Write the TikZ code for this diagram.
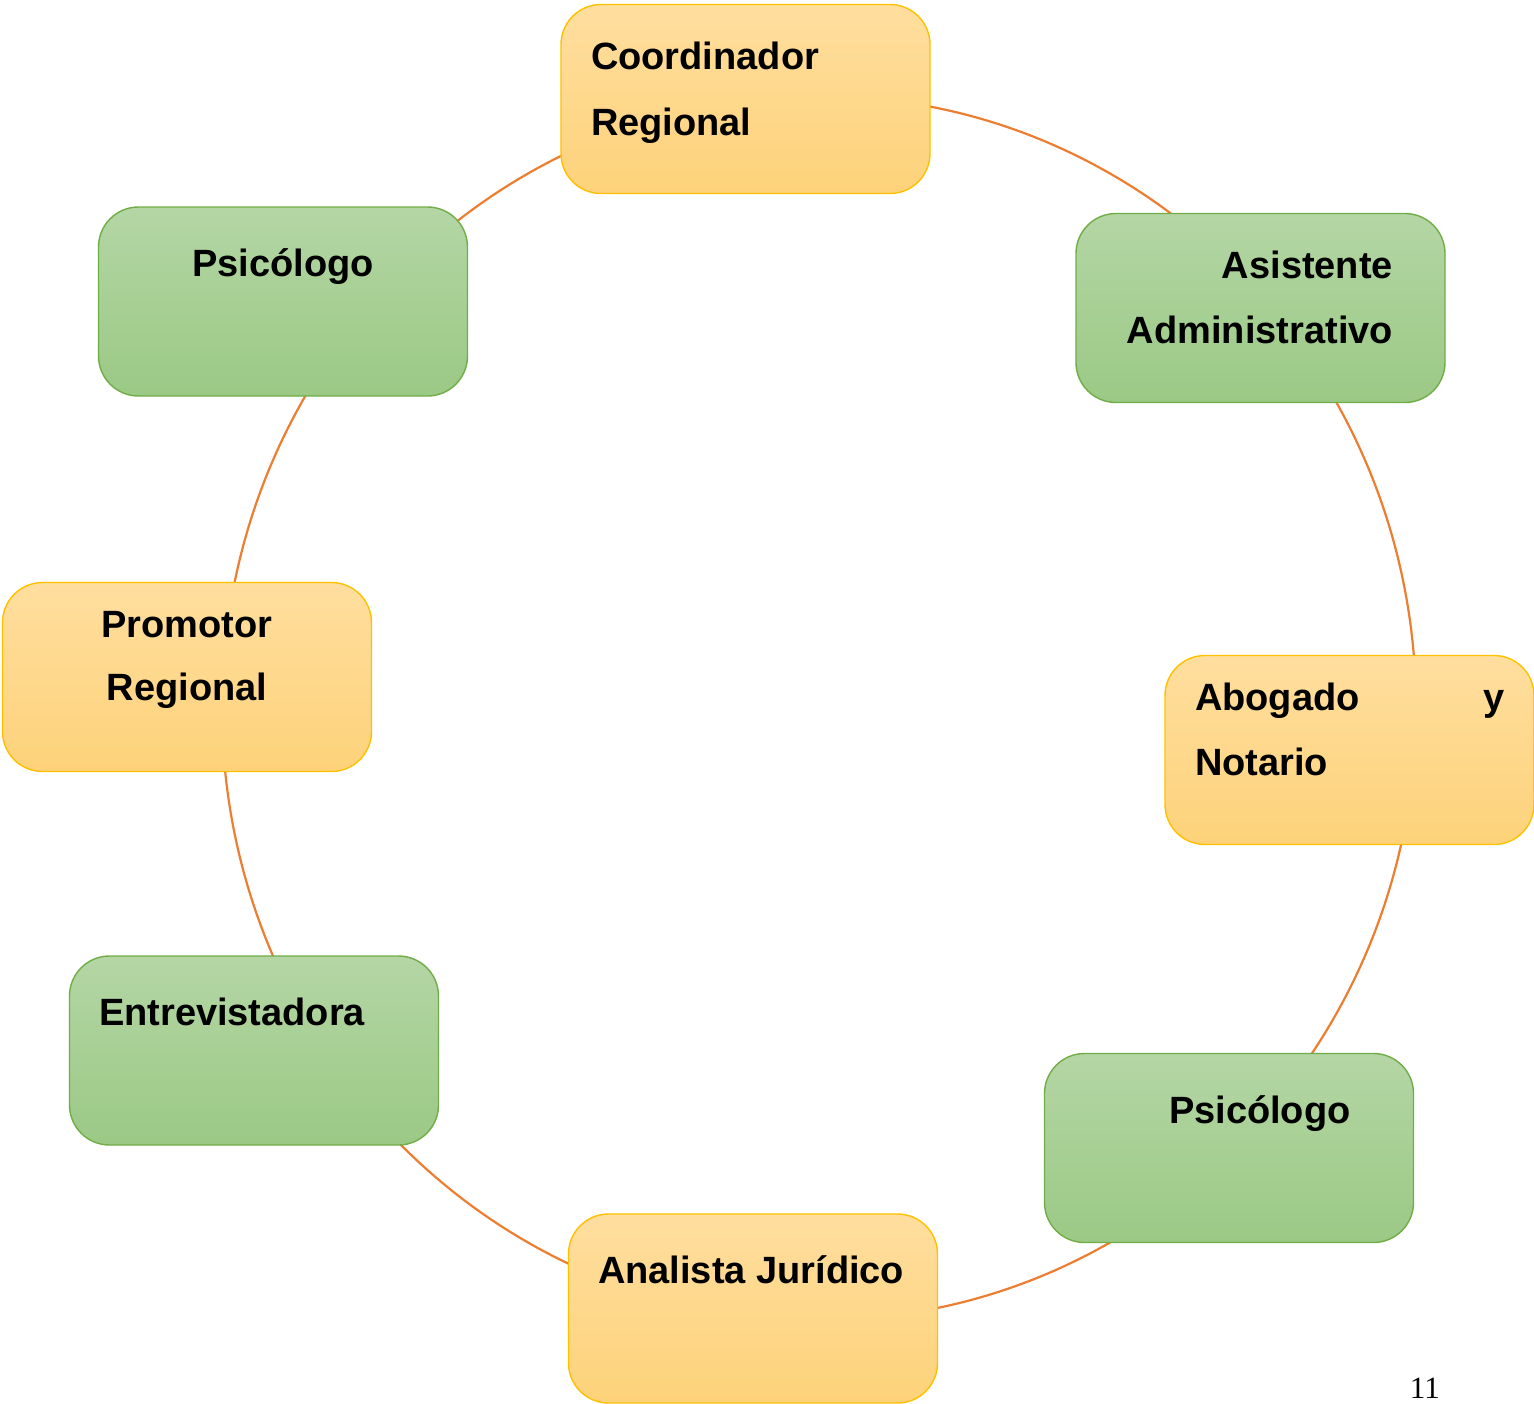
\documentclass[tikz,border=0pt]{standalone}
\usepackage{fontspec}
\setmainfont{Liberation Sans}
\newfontfamily\pagefont{Liberation Serif}
\definecolor{arcor}{HTML}{ED7D31}
\definecolor{ortop}{HTML}{FFDE9E}
\definecolor{orbot}{HTML}{FDD27A}
\definecolor{ordraw}{HTML}{FFC000}
\definecolor{grtop}{HTML}{B4D6A5}
\definecolor{grbot}{HTML}{9BC985}
\definecolor{grdraw}{HTML}{70AD47}
\tikzset{
  box/.style={rectangle, rounded corners=40pt, minimum width=369pt, minimum height=189pt,
    inner sep=0pt, outer sep=0pt, line width=1.4pt},
  obox/.style={box, draw=ordraw, top color=ortop, bottom color=orbot},
  gbox/.style={box, draw=grdraw, top color=grtop, bottom color=grbot},
  lbl/.style={font=\fontsize{38}{44}\selectfont\bfseries, inner sep=0pt, outer sep=0pt, text=black},
  arcline/.style={draw=arcor, line width=2.2pt}
}
\begin{document}
\begin{tikzpicture}[x=1pt,y=-1pt]
\useasboundingbox (0,0) rectangle (1534,1403);
\coordinate (ctr) at (819,708);
\draw[arcline] (ctr) ellipse [x radius=597pt, y radius=612pt];
% boxes
\node[obox] (coord) at (745.5,99) {};
\node[gbox] (psia) at (283,301.5) {};
\node[gbox] (asis) at (1260.5,308) {};
\node[obox] (prom) at (187,677) {};
\node[obox] (abog) at (1349.5,750) {};
\node[gbox] (entr) at (254,1050.5) {};
\node[gbox] (psib) at (1229,1148) {};
\node[obox] (anal) at (753,1308.5) {};
% texts
\node[lbl, anchor=base west] (t1a) at (591,69) {Coordinador};
\node[lbl, anchor=base west] (t1b) at (591,135) {Regional};
\node[lbl, anchor=base] (t2) at (283,276) {Psicólogo};
\node[lbl, anchor=base east] (t3a) at (1393,278) {Asistente};
\node[lbl, anchor=base east] (t3b) at (1393,343) {Administrativo};
\node[lbl, anchor=base] (t4a) at (187,637) {Promotor};
\node[lbl, anchor=base] (t4b) at (187,700) {Regional};
\node[lbl, anchor=base west] (t5a) at (1195,710) {Abogado};
\node[lbl, anchor=base east] (t5b) at (1505,710) {y};
\node[lbl, anchor=base west] (t5c) at (1195,775) {Notario};
\node[lbl, anchor=base west] (t6) at (99,1025) {Entrevistadora};
\node[lbl, anchor=base west] (t7) at (1169,1123) {Psicólogo};
\node[lbl, anchor=base west] (t8) at (598,1283) {Analista Jurídico};
\node[font=\pagefont\fontsize{31}{31}\selectfont, inner sep=0pt, anchor=base east] (pg) at (1440,1398) {11};
\end{tikzpicture}
\end{document}
